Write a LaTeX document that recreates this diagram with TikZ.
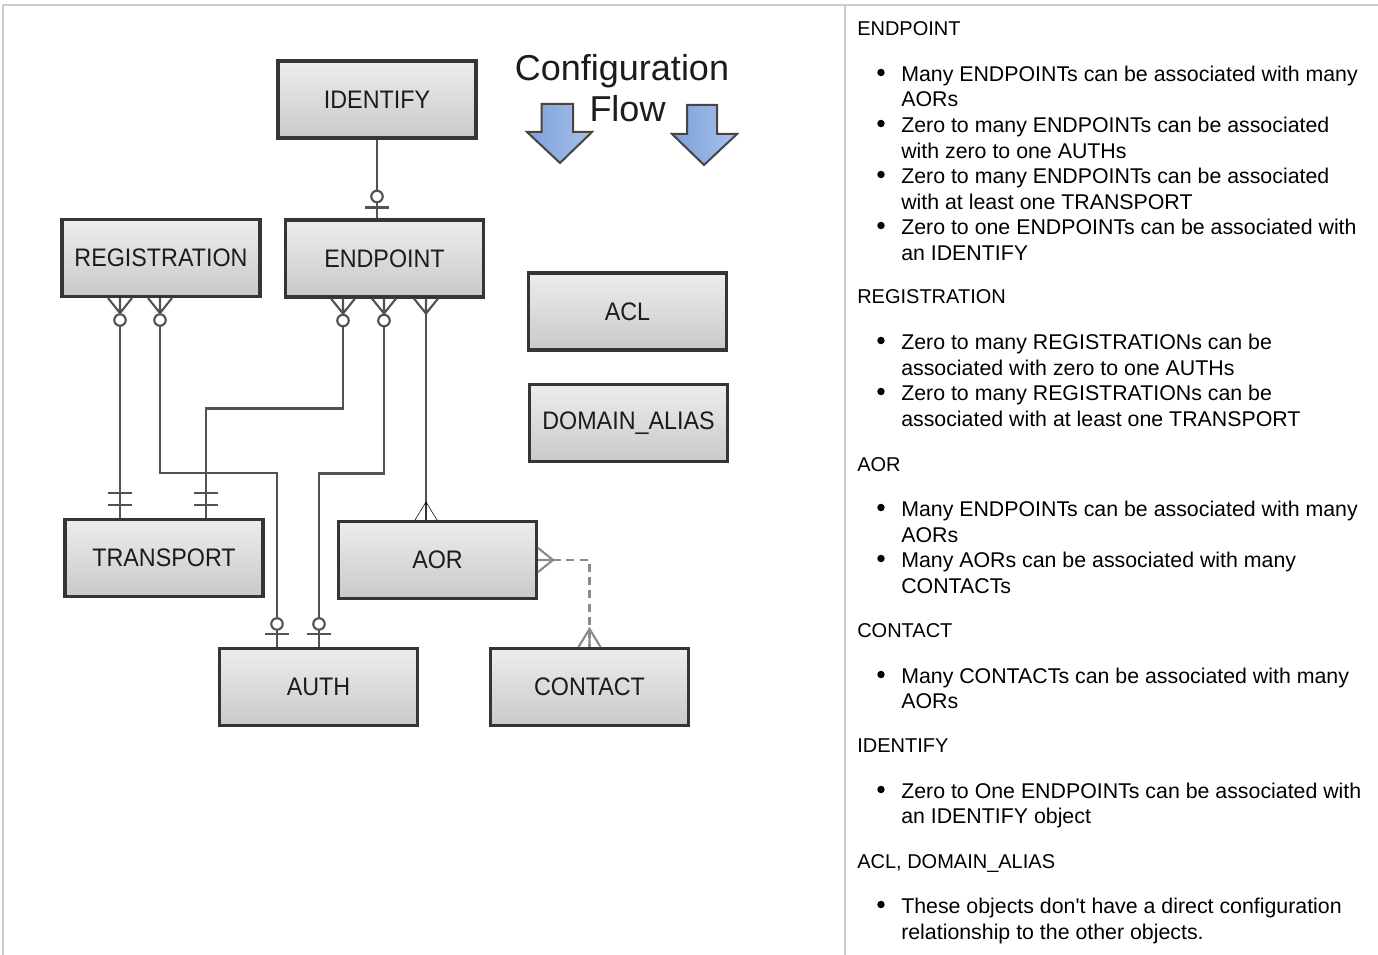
\documentclass[tikz,border=0pt]{standalone}
\usepackage{fontspec}
\setmainfont{Liberation Sans}
\newfontfamily\boxfont[FakeStretch=0.92]{Liberation Sans}
\usetikzlibrary{calc}
\definecolor{boxline}{HTML}{353535}
\definecolor{boxtop}{HTML}{EDEDED}
\definecolor{boxbot}{HTML}{C9C9C9}
\definecolor{linec}{HTML}{525252}
\definecolor{dashc}{HTML}{8A8A8A}
\definecolor{txt}{HTML}{1C1C1C}
\definecolor{framec}{HTML}{CCCCCC}
\definecolor{blueL}{HTML}{7AA0DA}
\definecolor{blueR}{HTML}{A8C2EA}
\definecolor{arrowline}{HTML}{454545}
\tikzset{
  conn/.style={draw=linec, line width=1.6pt},
  dconn/.style={draw=dashc, line width=1.6pt, dash pattern=on 6pt off 4pt},
  dmark/.style={draw=dashc, line width=1.6pt},
  crowdown/.pic={\draw[conn] (-12,0) -- (0,15) -- (12,0) (0,0) -- (0,15);},
  crowup/.pic={\draw[#1] (-11,0) -- (0,-18) -- (11,0) (0,0) -- (0,-18);},
  crowup/.default=conn,
  crowright/.pic={\draw[dmark] (0,-12) -- (15,0) -- (0,12) (0,0) -- (15,0);},
  zerocirc/.pic={\draw[conn, fill=white] (0,0) circle[radius=4.3pt];},
  onebar/.pic={\draw[conn] (-12,0) -- (12,0);},
}
\begin{document}
\begin{tikzpicture}[x=0.75pt,y=-0.75pt,
  entity/.style={draw=boxline, line width=2.3pt, top color=boxtop, bottom color=boxbot,
    minimum width=148.5pt, minimum height=57.75pt, inner sep=0pt,
    font=\boxfont\fontsize{19}{21}\selectfont, text=txt},
  hdr/.style={anchor=base west, inner sep=0pt, font=\fontsize{15}{18}\selectfont, text=black},
  btxt/.style={anchor=base west, inner sep=0pt, font=\fontsize{16}{19}\selectfont, text=black},
  bul/.style={fill=black, draw=none},
  flowarrow/.style={draw=arrowline, line width=1.5pt, left color=blueL, right color=blueR},
  flowtxt/.style={anchor=base, inner sep=0pt, font=\fontsize{27}{30}\selectfont, text=txt},
]
\useasboundingbox (0,0) rectangle (1378,955);
% frame
\draw[framec, line width=1.5pt] (3,955) -- (3,5) -- (1378,5);
\draw[framec, line width=1.5pt] (845,5) -- (845,955);

% entities
\node[entity] (id)   at (377,99.5)  {IDENTIFY};
\node[entity] (reg)  at (161,258)   {REGISTRATION};
\node[entity] (ep)   at (384.5,258.5) {ENDPOINT};
\node[entity] (acl)  at (627.5,311.5) {ACL};
\node[entity] (dom)  at (628.5,423) {DOMAIN\_ALIAS};
\node[entity] (tr)   at (164,558)   {TRANSPORT};
\node[entity] (aor)  at (437.5,560) {AOR};
\node[entity] (auth) at (318.5,687) {AUTH};
\node[entity] (con)  at (589.5,687) {CONTACT};

% configuration flow
\node[flowtxt] (cfg) at (622,81) {Configuration};
\node[flowtxt] (flw) at (627.5,122) {Flow};
\draw[flowarrow] (541.5,104) -- (573,104) -- (573,132) -- (592,132) -- (560,163)
   -- (527,132) -- (541.5,132) -- cycle;
\draw[flowarrow] (687,105) -- (717,105) -- (717,134) -- (737,134) -- (704,165)
   -- (672,134) -- (687,134) -- cycle;

% IDENTIFY - ENDPOINT
\draw[conn] (id.south) -- (id.south |- ep.north);
\pic at ($(id.south |- ep.north)+(0,-22)$) {zerocirc};
\pic at ($(id.south |- ep.north)+(0,-11)$) {onebar};

% REGISTRATION - TRANSPORT
\draw[conn] ($(reg.south)+(-41,0)$) -- ($(tr.north)+(-44,0)$);
\pic at ($(reg.south)+(-41,0)$) {crowdown};
\pic at ($(reg.south)+(-41,22)$) {zerocirc};
\pic at ($(tr.north)+(-44,-25)$) {onebar};
\pic at ($(tr.north)+(-44,-13)$) {onebar};

% REGISTRATION - AUTH
\draw[conn] ($(reg.south)+(-1,0)$) -- ++(0,175) -| ($(auth.north)+(-41.5,0)$);
\pic at ($(reg.south)+(-1,0)$) {crowdown};
\pic at ($(reg.south)+(-1,22)$) {zerocirc};
\pic at ($(auth.north)+(-41.5,-23)$) {zerocirc};
\pic at ($(auth.north)+(-41.5,-13)$) {onebar};

% ENDPOINT - TRANSPORT
\draw[conn] ($(ep.south)+(-41.5,0)$) -- ++(0,110) -| ($(tr.north)+(42,0)$);
\pic at ($(ep.south)+(-41.5,0)$) {crowdown};
\pic at ($(ep.south)+(-41.5,22)$) {zerocirc};
\pic at ($(tr.north)+(42,-25)$) {onebar};
\pic at ($(tr.north)+(42,-13)$) {onebar};

% ENDPOINT - AUTH
\draw[conn] ($(ep.south)+(-0.5,0)$) -- ++(0,175) -| ($(auth.north)+(0.5,0)$);
\pic at ($(ep.south)+(-0.5,0)$) {crowdown};
\pic at ($(ep.south)+(-0.5,22)$) {zerocirc};
\pic at ($(auth.north)+(0.5,-23)$) {zerocirc};
\pic at ($(auth.north)+(0.5,-13)$) {onebar};

% ENDPOINT - AOR
\draw[conn] ($(ep.south)+(41.5,0)$) -- ($(aor.north)+(-11.5,0)$);
\pic at ($(ep.south)+(41.5,0)$) {crowdown};
\pic at ($(aor.north)+(-11.5,0)$) {crowup};

% AOR - CONTACT
\draw[dconn] ($(aor.east)+(15,0)$) -| (con.north);
\pic at (aor.east) {crowright};
\pic at (con.north) {crowup=dmark};

% right column
\node[hdr] (h1) at (857,36) {ENDPOINT};
\node[btxt] (t1a) at (901,81.5) {Many ENDPOINTs can be associated with many};
\node[btxt] (t1b) at (901,107) {AORs};
\node[btxt] (t2a) at (901,132.5) {Zero to many ENDPOINTs can be associated};
\node[btxt] (t2b) at (901,158.5) {with zero to one AUTHs};
\node[btxt] (t3a) at (901,183.5) {Zero to many ENDPOINTs can be associated};
\node[btxt] (t3b) at (901,209.5) {with at least one TRANSPORT};
\node[btxt] (t4a) at (901,234.5) {Zero to one ENDPOINTs can be associated with};
\node[btxt] (t4b) at (901,260.5) {an IDENTIFY};

\node[hdr] (h2) at (857,304) {REGISTRATION};
\node[btxt] (t5a) at (901,349.5) {Zero to many REGISTRATIONs can be};
\node[btxt] (t5b) at (901,375.5) {associated with zero to one AUTHs};
\node[btxt] (t6a) at (901,400.5) {Zero to many REGISTRATIONs can be};
\node[btxt] (t6b) at (901,426.5) {associated with at least one TRANSPORT};

\node[hdr] (h3) at (857,471) {AOR};
\node[btxt] (t7a) at (901,516.5) {Many ENDPOINTs can be associated with many};
\node[btxt] (t7b) at (901,542.5) {AORs};
\node[btxt] (t8a) at (901,567.5) {Many AORs can be associated with many};
\node[btxt] (t8b) at (901,593.5) {CONTACTs};

\node[hdr] (h4) at (857,637) {CONTACT};
\node[btxt] (t9a) at (901,683.5) {Many CONTACTs can be associated with many};
\node[btxt] (t9b) at (901,708.5) {AORs};

\node[hdr] (h5) at (857,752) {IDENTIFY};
\node[btxt] (t10a) at (901,798.5) {Zero to One ENDPOINTs can be associated with};
\node[btxt] (t10b) at (901,823.5) {an IDENTIFY object};

\node[hdr] (h6) at (857,868) {ACL, DOMAIN\_ALIAS};
\node[btxt] (t11a) at (901,913.5) {These objects don{\textquotesingle}t have a direct configuration};
\node[btxt] (t11b) at (901,939.5) {relationship to the other objects.};

% bullets
\foreach \yy in {81.5,132.5,183.5,234.5,349.5,400.5,516.5,567.5,683.5,798.5,913.5}
  \fill[bul] (881,\yy-9) circle[radius=2.8pt];
\end{tikzpicture}
\end{document}
